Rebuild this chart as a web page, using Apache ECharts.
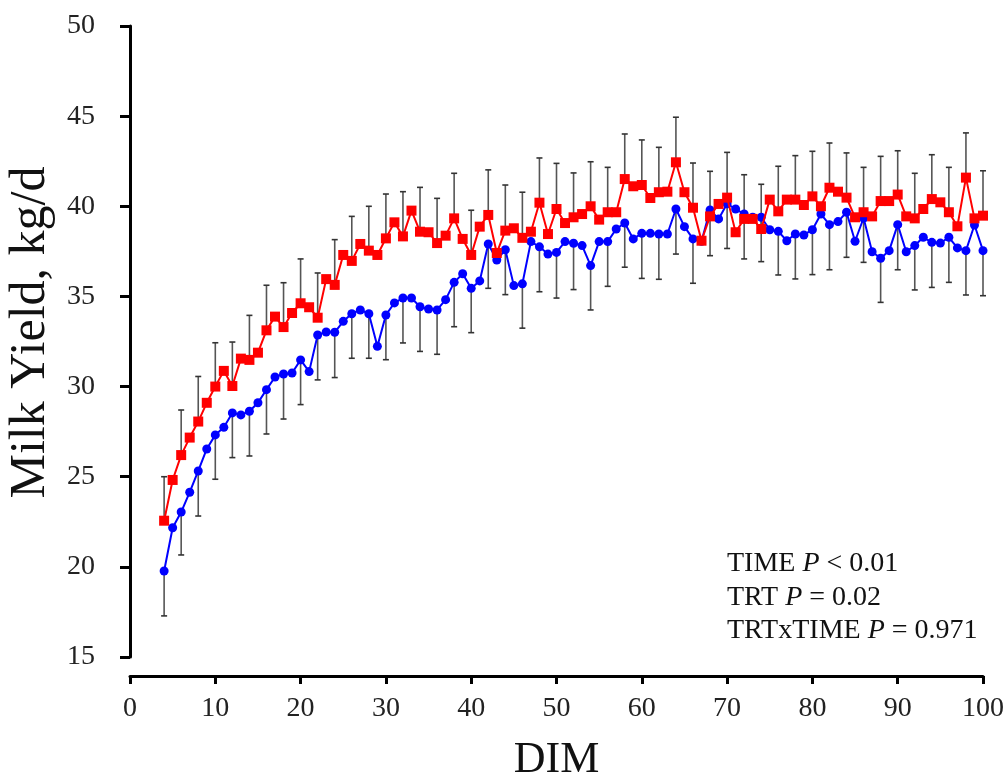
<!DOCTYPE html>
<html>
<head>
<meta charset="utf-8">
<title>Milk Yield</title>
<script src="https://cdn.jsdelivr.net/npm/echarts@6/dist/echarts.min.js"></script>
<style>
  html, body { margin: 0; padding: 0; background: #fff; }
  #chart { width: 1007px; height: 774px; }
</style>
</head>
<body>
<div id="chart"></div>
<script>
// DIM 4 ~ 100
var days = [4,5,6,7,8,9,10,11,12,13,14,15,16,17,18,19,20,21,22,23,24,25,26,27,28,29,30,
  31,32,33,34,35,36,37,38,39,40,41,42,43,44,45,46,47,48,49,50,51,52,53,54,55,56,57,58,59,60,
  61,62,63,64,65,66,67,68,69,70,71,72,73,74,75,76,77,78,79,80,81,82,83,84,85,86,87,88,89,90,
  91,92,93,94,95,96,97,98,99,100];

// 红色方块
var redYield = [22.56,24.82,26.2,27.17,28.06,29.1,30.0,30.87,30.03,31.55,31.48,31.88,33.12,33.88,33.3,34.08,34.62,34.4,33.82,35.96,35.64,37.3,36.97,
  37.91,37.54,37.3,38.22,39.11,38.33,39.76,38.59,38.56,37.96,38.37,39.33,38.19,37.3,38.87,39.52,37.41,38.65,38.78,38.25,38.59,40.2,
  38.46,39.85,39.07,39.39,39.57,40.0,39.26,39.67,39.67,41.51,41.11,41.18,40.46,40.78,40.81,42.44,40.78,39.92,38.09,39.44,40.13,40.48,
  38.56,39.3,39.3,38.74,40.37,39.72,40.37,40.37,40.07,40.55,40.0,41.03,40.81,40.48,39.39,39.67,39.44,40.29,40.29,40.65,
  39.44,39.33,39.85,40.4,40.22,39.67,38.89,41.59,39.33,39.48];

// 蓝色圆点
var blueYield = [19.77,22.17,23.04,24.14,25.32,26.54,27.32,27.74,28.54,28.43,28.63,29.1,29.83,30.53,30.7,30.75,31.48,30.83,32.86,33.03,33.01,33.62,34.04,
  34.25,34.04,32.23,33.97,34.64,34.91,34.91,34.43,34.3,34.25,34.82,35.78,36.26,35.45,35.86,37.91,37.02,37.59,35.6,35.7,38.04,37.75,
  37.35,37.44,38.04,37.95,37.82,36.71,38.04,38.04,38.74,39.07,38.19,38.5,38.5,38.46,38.46,39.85,38.87,38.19,38.06,39.8,39.3,40.14,
  39.85,39.57,39.39,39.39,38.7,38.61,38.09,38.46,38.41,38.7,39.57,38.98,39.15,39.67,38.06,39.35,37.48,37.12,37.54,38.98,
  37.48,37.82,38.28,38.0,37.96,38.28,37.69,37.54,38.96,37.54];

// 误差线 (隔天一条)
var errDays = [4,6,8,10,12,14,16,18,20,22,24,26,28,30,32,34,36,38,40,42,44,46,48,50,52,
  54,56,58,60,62,64,66,68,70,72,74,76,78,80,82,84,86,88,90,92,94,96,98,100];
var redErr = [2.44,2.5,2.5,2.43,2.44,2.47,2.5,2.46,2.46,2.48,2.51,2.47,2.46,2.46,2.48,2.46,2.48,2.5,2.48,2.5,2.53,2.53,2.48,2.53,2.46,
  2.47,2.49,2.5,2.5,2.49,2.5,2.48,2.5,2.51,2.45,2.48,2.5,2.44,2.5,2.48,2.48,2.49,2.48,2.43,2.5,2.46,2.49,2.48,2.49];
var blueErr = [2.49,2.38,2.5,2.46,2.48,2.48,2.46,2.5,2.48,2.49,2.51,2.47,2.47,2.48,2.49,2.48,2.46,2.46,2.46,2.46,2.49,2.46,2.49,2.53,2.57,
  2.46,2.48,2.45,2.5,2.51,2.5,2.46,2.54,2.48,2.49,2.46,2.42,2.49,2.49,2.5,2.5,2.46,2.45,2.5,2.46,2.5,2.5,2.46,2.5];

var xTicks = [0, 100, 10];
var yTicks = [15, 50, 5];

var FONT = '"Liberation Serif", "Times New Roman", serif';

function pairs(xs, ys) {
  var out = [];
  for (var i = 0; i < xs.length; i++) out.push([xs[i], ys[i]]);
  return out;
}

// 误差线数据: [x, 均值, 端点]
function errData(series, errs, dir) {
  var out = [];
  for (var i = 0; i < errDays.length; i++) {
    var m = series[days.indexOf(errDays[i])];
    out.push([errDays[i], m, m + dir * errs[i]]);
  }
  return out;
}

function renderErr(params, api) {
  var p1 = api.coord([api.value(0), api.value(1)]);
  var p2 = api.coord([api.value(0), api.value(2)]);
  return {
    type: 'group',
    children: [{
      type: 'line',
      shape: { x1: p1[0], y1: p1[1], x2: p2[0], y2: p2[1] },
      style: { stroke: '#555', lineWidth: 1.6 }
    }, {
      type: 'line',
      shape: { x1: p2[0] - 3, y1: p2[1], x2: p2[0] + 3, y2: p2[1] },
      style: { stroke: '#333', lineWidth: 1.6 }
    }]
  };
}

// P 值文字
function pText(top, pre, post) {
  return {
    type: 'text', left: 727, top: top,
    style: {
      text: '{a|' + pre + ' }{b|P}{a| ' + post + '}',
      rich: {
        a: { fontFamily: FONT, fontSize: 28, fill: '#111' },
        b: { fontFamily: FONT, fontSize: 28, fontStyle: 'italic', fill: '#111' }
      }
    }
  };
}

var chart = echarts.init(document.getElementById('chart'), null, { renderer: 'canvas' });

var option = {
  backgroundColor: '#fff',
  animation: false,
  // v6: 不让坐标轴文字挤压绘图区
  grid: { left: 130, right: 24, top: 26, bottom: 117, containLabel: false, outerBoundsMode: 'none' },
  xAxis: {
    type: 'value',
    min: xTicks[0], max: xTicks[1], interval: xTicks[2],
    offset: 19,
    name: 'DIM',
    nameLocation: 'middle',
    nameGap: 62,
    nameTextStyle: { fontFamily: FONT, fontSize: 44, color: '#111' },
    axisLine: { lineStyle: { color: '#000', width: 3 } },
    axisTick: { show: true, inside: false, length: 8, lineStyle: { color: '#000', width: 3 } },
    axisLabel: { fontFamily: FONT, fontSize: 28, color: '#222', margin: 19 },
    splitLine: { show: false }
  },
  yAxis: {
    type: 'value',
    min: yTicks[0], max: yTicks[1], interval: yTicks[2],
    offset: 19,
    name: 'Milk Yield, kg/d',
    nameLocation: 'middle',
    nameGap: 54,
    nameTextStyle: { fontFamily: FONT, fontSize: 50, color: '#111', padding: [0, 0, 0, 18] },
    axisLine: { show: true, lineStyle: { color: '#000', width: 3 } },
    axisTick: { show: true, inside: false, length: 10, lineStyle: { color: '#000', width: 3 } },
    axisLabel: { fontFamily: FONT, fontSize: 28, color: '#222', margin: 16 },
    splitLine: { show: false }
  },
  graphic: [
    pText(550, 'TIME', '< 0.01'),
    pText(584, 'TRT', '= 0.02'),
    pText(617, 'TRTxTIME', '= 0.971')
  ],
  series: [{
    type: 'custom',
    renderItem: renderErr,
    data: errData(blueYield, blueErr, -1),
    z: 1
  }, {
    type: 'custom',
    renderItem: renderErr,
    data: errData(redYield, redErr, 1),
    z: 1
  }, {
    type: 'line',
    data: pairs(days, blueYield),
    symbol: 'circle',
    symbolSize: 9,
    lineStyle: { color: '#0000ff', width: 2 },
    itemStyle: { color: '#0000ff' },
    z: 3
  }, {
    type: 'line',
    data: pairs(days, redYield),
    symbol: 'rect',
    symbolSize: 10,
    lineStyle: { color: '#ff0000', width: 2 },
    itemStyle: { color: '#ff0000' },
    z: 4
  }]
};
chart.setOption(option);
</script>
</body>
</html>
